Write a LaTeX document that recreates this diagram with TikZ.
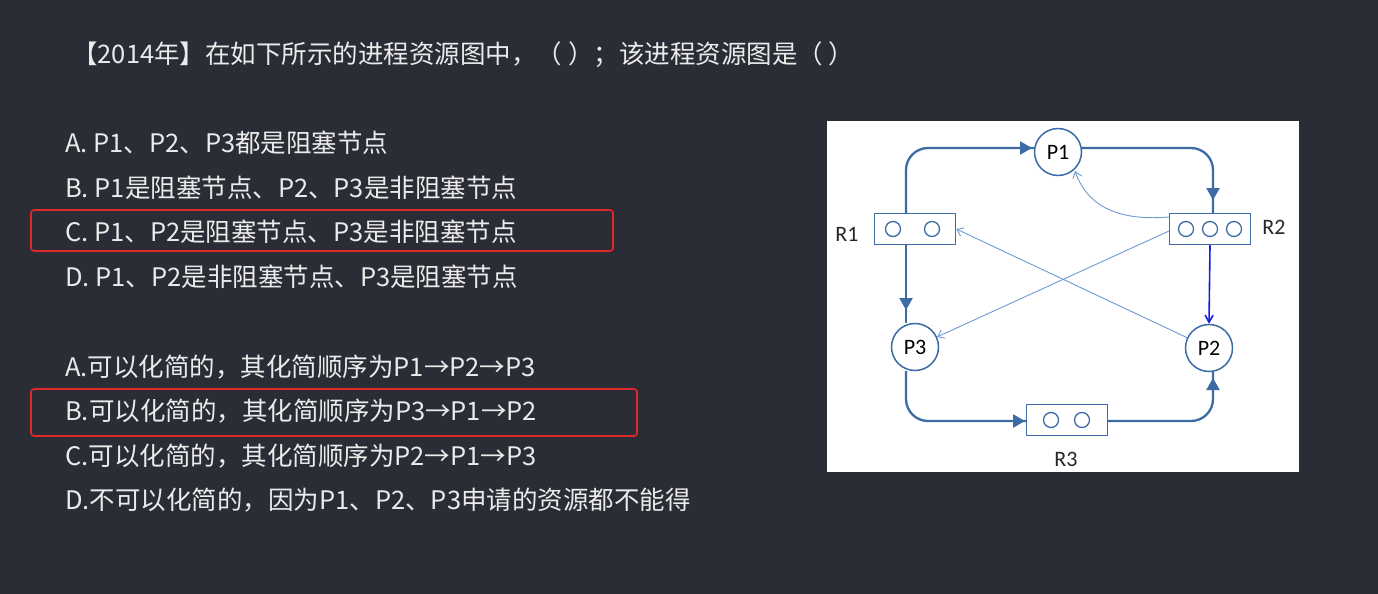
\documentclass[tikz,border=0pt]{standalone}
\usepackage{fontspec}
\setmainfont{Noto Sans CJK SC}
\newfontfamily\carlitofont{Carlito}
\usetikzlibrary{arrows.meta}
\definecolor{bg}{HTML}{2B2D36}
\definecolor{ed}{HTML}{3C6BA5}
\definecolor{th}{HTML}{6F9BD2}
\definecolor{rd}{HTML}{E0282A}
\begin{document}
\begin{tikzpicture}[x=1pt,y=-1pt,
  txt/.style={anchor=west,text=white!92!black,font=\fontsize{25.5}{30}\selectfont,inner sep=0},
  redbox/.style={draw=rd,line width=1.6pt,rounded corners=3pt},
  proc/.style={circle,draw=ed,line width=1.5pt,fill=white,minimum size=47pt,inner sep=0,font=\carlitofont\fontsize{22}{24}\selectfont},
  res/.style={draw=ed,line width=1.5pt,fill=white,minimum width=81pt,minimum height=31pt,inner sep=0},
  dot/.style={circle,draw=ed,line width=1.3pt,minimum size=15pt,inner sep=0},
  lab/.style={font=\carlitofont\fontsize{22}{24}\selectfont,text=black!85},
  thk/.style={draw=ed,line width=2.3pt,rounded corners=22pt},
  thn/.style={draw=th,line width=0.9pt,-{Straight Barb[length=6pt,width=9pt]}},
  ah/.style={-{Triangle[length=12pt,width=13pt]}}]
\useasboundingbox (0,0) rectangle (1378,594);
\fill[bg] (0,0) rectangle (1378,594);
\node[txt] (t) at (72,55) {【2014年】在如下所示的进程资源图中，（ ）；该进程资源图是（ ）};
\node[txt] (a1) at (65,143) {A. P1、P2、P3都是阻塞节点};
\node[txt] (b1) at (65,188) {B. P1是阻塞节点、P2、P3是非阻塞节点};
\node[txt] (c1) at (65,232) {C. P1、P2是阻塞节点、P3是非阻塞节点};
\node[txt] (d1) at (65,277) {D. P1、P2是非阻塞节点、P3是阻塞节点};
\node[txt] (a2) at (65,367) {A.可以化简的，其化简顺序为P1→P2→P3};
\node[txt] (b2) at (65,411) {B.可以化简的，其化简顺序为P3→P1→P2};
\node[txt] (c2) at (65,456) {C.可以化简的，其化简顺序为P2→P1→P3};
\node[txt] (d2) at (65,500) {D.不可以化简的，因为P1、P2、P3申请的资源都不能得};
\draw[redbox] (31,210) rectangle (613,251);
\draw[redbox] (31,389) rectangle (637,436);
\fill[white] (827,121) rectangle (1299,472);
\draw[thk] (906,213) -- (906,148) -- (1034,148);
\draw[thk] (1082,148) -- (1213,148) -- (1213,213);
\draw[thk] (906,244) -- (906,323);
\draw[thk] (906,371) -- (906,421) -- (1027,421);
\draw[thk] (1107,421) -- (1213,421) -- (1213,372);
\node[proc] (P1) at (1058,152) {P1};
\node[proc] (P3) at (915,347) {P3};
\node[proc] (P2) at (1209,348) {P2};
\node[res] (R1) at (915,229) {};
\node[res] (R2) at (1210,229) {};
\node[res] (R3) at (1067,420) {};
\node[dot] at (893,229) {}; \node[dot] at (932,229) {};
\node[dot] at (1186,229) {}; \node[dot] at (1210,229) {}; \node[dot] at (1234,229) {};
\node[dot] at (1051,420) {}; \node[dot] at (1082,420) {};
\node[lab] (l1) at (847,234) {R1};
\node[lab] (l2) at (1274,227) {R2};
\node[lab] (l3) at (1066,459) {R3};
\draw[ed,line width=2.3pt,ah] (1010,148) -- (1032,148);
\draw[ed,line width=2.3pt,ah] (1213,182) -- (1213,200);
\draw[ed,line width=2.3pt,ah] (906,290) -- (906,310);
\draw[ed,line width=2.3pt,ah] (1005,421) -- (1025,421);
\draw[ed,line width=2.3pt,ah] (1213,397) -- (1213,378);
\draw[draw=blue!70!ed,line width=1.6pt,-{Straight Barb[length=7pt,width=8pt]}] (R2.south) -- (P2.north);
\draw[thn] (1169,217) .. controls (1110,222) and (1085,200) .. (1075,171);
\draw[thn] (1169,231) -- (P3);
\draw[thn] (P2) -- (R1.east);
\end{tikzpicture}
\end{document}
